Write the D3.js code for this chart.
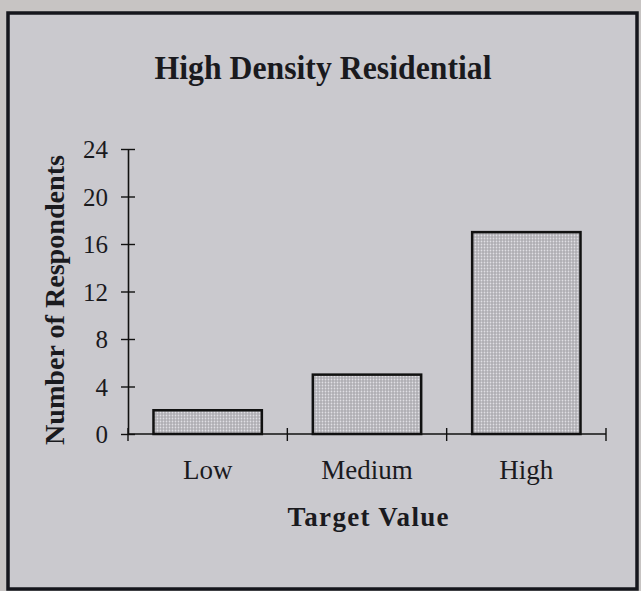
<!DOCTYPE html>
<html>
<head>
<meta charset="utf-8">
<script src="https://cdn.jsdelivr.net/npm/d3@7"></script>
<style>
  body { margin: 0; background: #c7c4c3; }
  text { font-family: "Liberation Serif", "Times New Roman", serif; fill: #1a1a1e; }
</style>
</head>
<body>
<script>
var categories = ["Low", "Medium", "High"];
var respondents = [2, 5, 17];
var yTicks = [0, 4, 8, 12, 16, 20, 24];

var width = 641, height = 591;
var margin = {left: 128, right: 35, top: 149, bottom: 157};

var svg = d3.select("body").append("svg").attr("width", width).attr("height", height);

// dotted fill like the scanned print
var defs = svg.append("defs");
var pat = defs.append("pattern").attr("id", "dots").attr("patternUnits", "userSpaceOnUse")
    .attr("width", 3).attr("height", 3);
pat.append("rect").attr("width", 3).attr("height", 3).attr("fill", "#aeadb2");
pat.append("circle").attr("cx", 1.5).attr("cy", 1.5).attr("r", 0.9).attr("fill", "#e0dfe4");

// panel with frame
svg.append("rect").attr("x", 8).attr("y", 13).attr("width", 629).attr("height", 576)
    .attr("fill", "#cac9ce").attr("stroke", "#15161c").attr("stroke-width", 3.5);

var x = d3.scaleBand().domain(categories).range([margin.left, width - margin.right]);
var y = d3.scaleLinear().domain([0, 24]).range([height - margin.bottom, margin.top]);

var chart = svg.append("g");

// bars
chart.selectAll("rect.bar").data(respondents).enter().append("rect")
    .attr("class", "bar")
    .attr("x", function(d, i) { return x(categories[i]) + x.bandwidth() * 0.16; })
    .attr("width", x.bandwidth() * 0.68)
    .attr("y", function(d) { return y(d); })
    .attr("height", function(d) { return y(0) - y(d); })
    .attr("fill", "url(#dots)")
    .attr("stroke", "#111")
    .attr("stroke-width", 2.5);

// y axis
var yAxis = d3.axisLeft(y).tickValues(yTicks).tickSizeInner(-14).tickSizeOuter(0).tickPadding(0);
var yg = chart.append("g").attr("transform", "translate(" + margin.left + ",0)").call(yAxis);
yg.select(".domain").attr("stroke", "#111").attr("stroke-width", 1.6);
yg.selectAll(".tick line").attr("x1", -7).attr("x2", 7).attr("stroke", "#111").attr("stroke-width", 1.4);
yg.selectAll(".tick text").attr("x", -20).attr("dy", "0.34em")
    .style("font-size", "25px").style("font-family", "Liberation Serif").attr("fill", "#1a1a1e");

// x axis: ticks on band edges
var xEdges = categories.map(function(c) { return x(c); }).concat([x.range()[1]]);
chart.append("line").attr("x1", margin.left).attr("x2", x.range()[1])
    .attr("y1", y(0)).attr("y2", y(0)).attr("stroke", "#111").attr("stroke-width", 1.6);
chart.selectAll("line.xt").data(xEdges).enter().append("line").attr("class", "xt")
    .attr("x1", function(d) { return d; }).attr("x2", function(d) { return d; })
    .attr("y1", y(0) - 6).attr("y2", y(0) + 7).attr("stroke", "#111").attr("stroke-width", 1.4);
chart.selectAll("text.xl").data(categories).enter().append("text").attr("class", "xl")
    .attr("x", function(d) { return x(d) + x.bandwidth() / 2 - 0; })
    .attr("y", y(0) + 45)
    .attr("text-anchor", "middle")
    .style("font-size", "27px")
    .text(function(d) { return d; });

// titles
svg.append("text").attr("x", 323).attr("y", 79).attr("text-anchor", "middle")
    .style("font-size", "34px").style("font-weight", "bold")
    .attr("textLength", 337).attr("lengthAdjust", "spacingAndGlyphs")
    .text("High Density Residential");

svg.append("text").attr("x", 368).attr("y", 526).attr("text-anchor", "middle")
    .style("font-size", "27px").style("font-weight", "bold")
    .attr("textLength", 161).attr("lengthAdjust", "spacing")
    .text("Target Value");

svg.append("text").attr("transform", "translate(64,300) rotate(-90)").attr("text-anchor", "middle")
    .style("font-size", "28px").style("font-weight", "bold")
    .attr("textLength", 290).attr("lengthAdjust", "spacingAndGlyphs")
    .text("Number of Respondents");
</script>
</body>
</html>
